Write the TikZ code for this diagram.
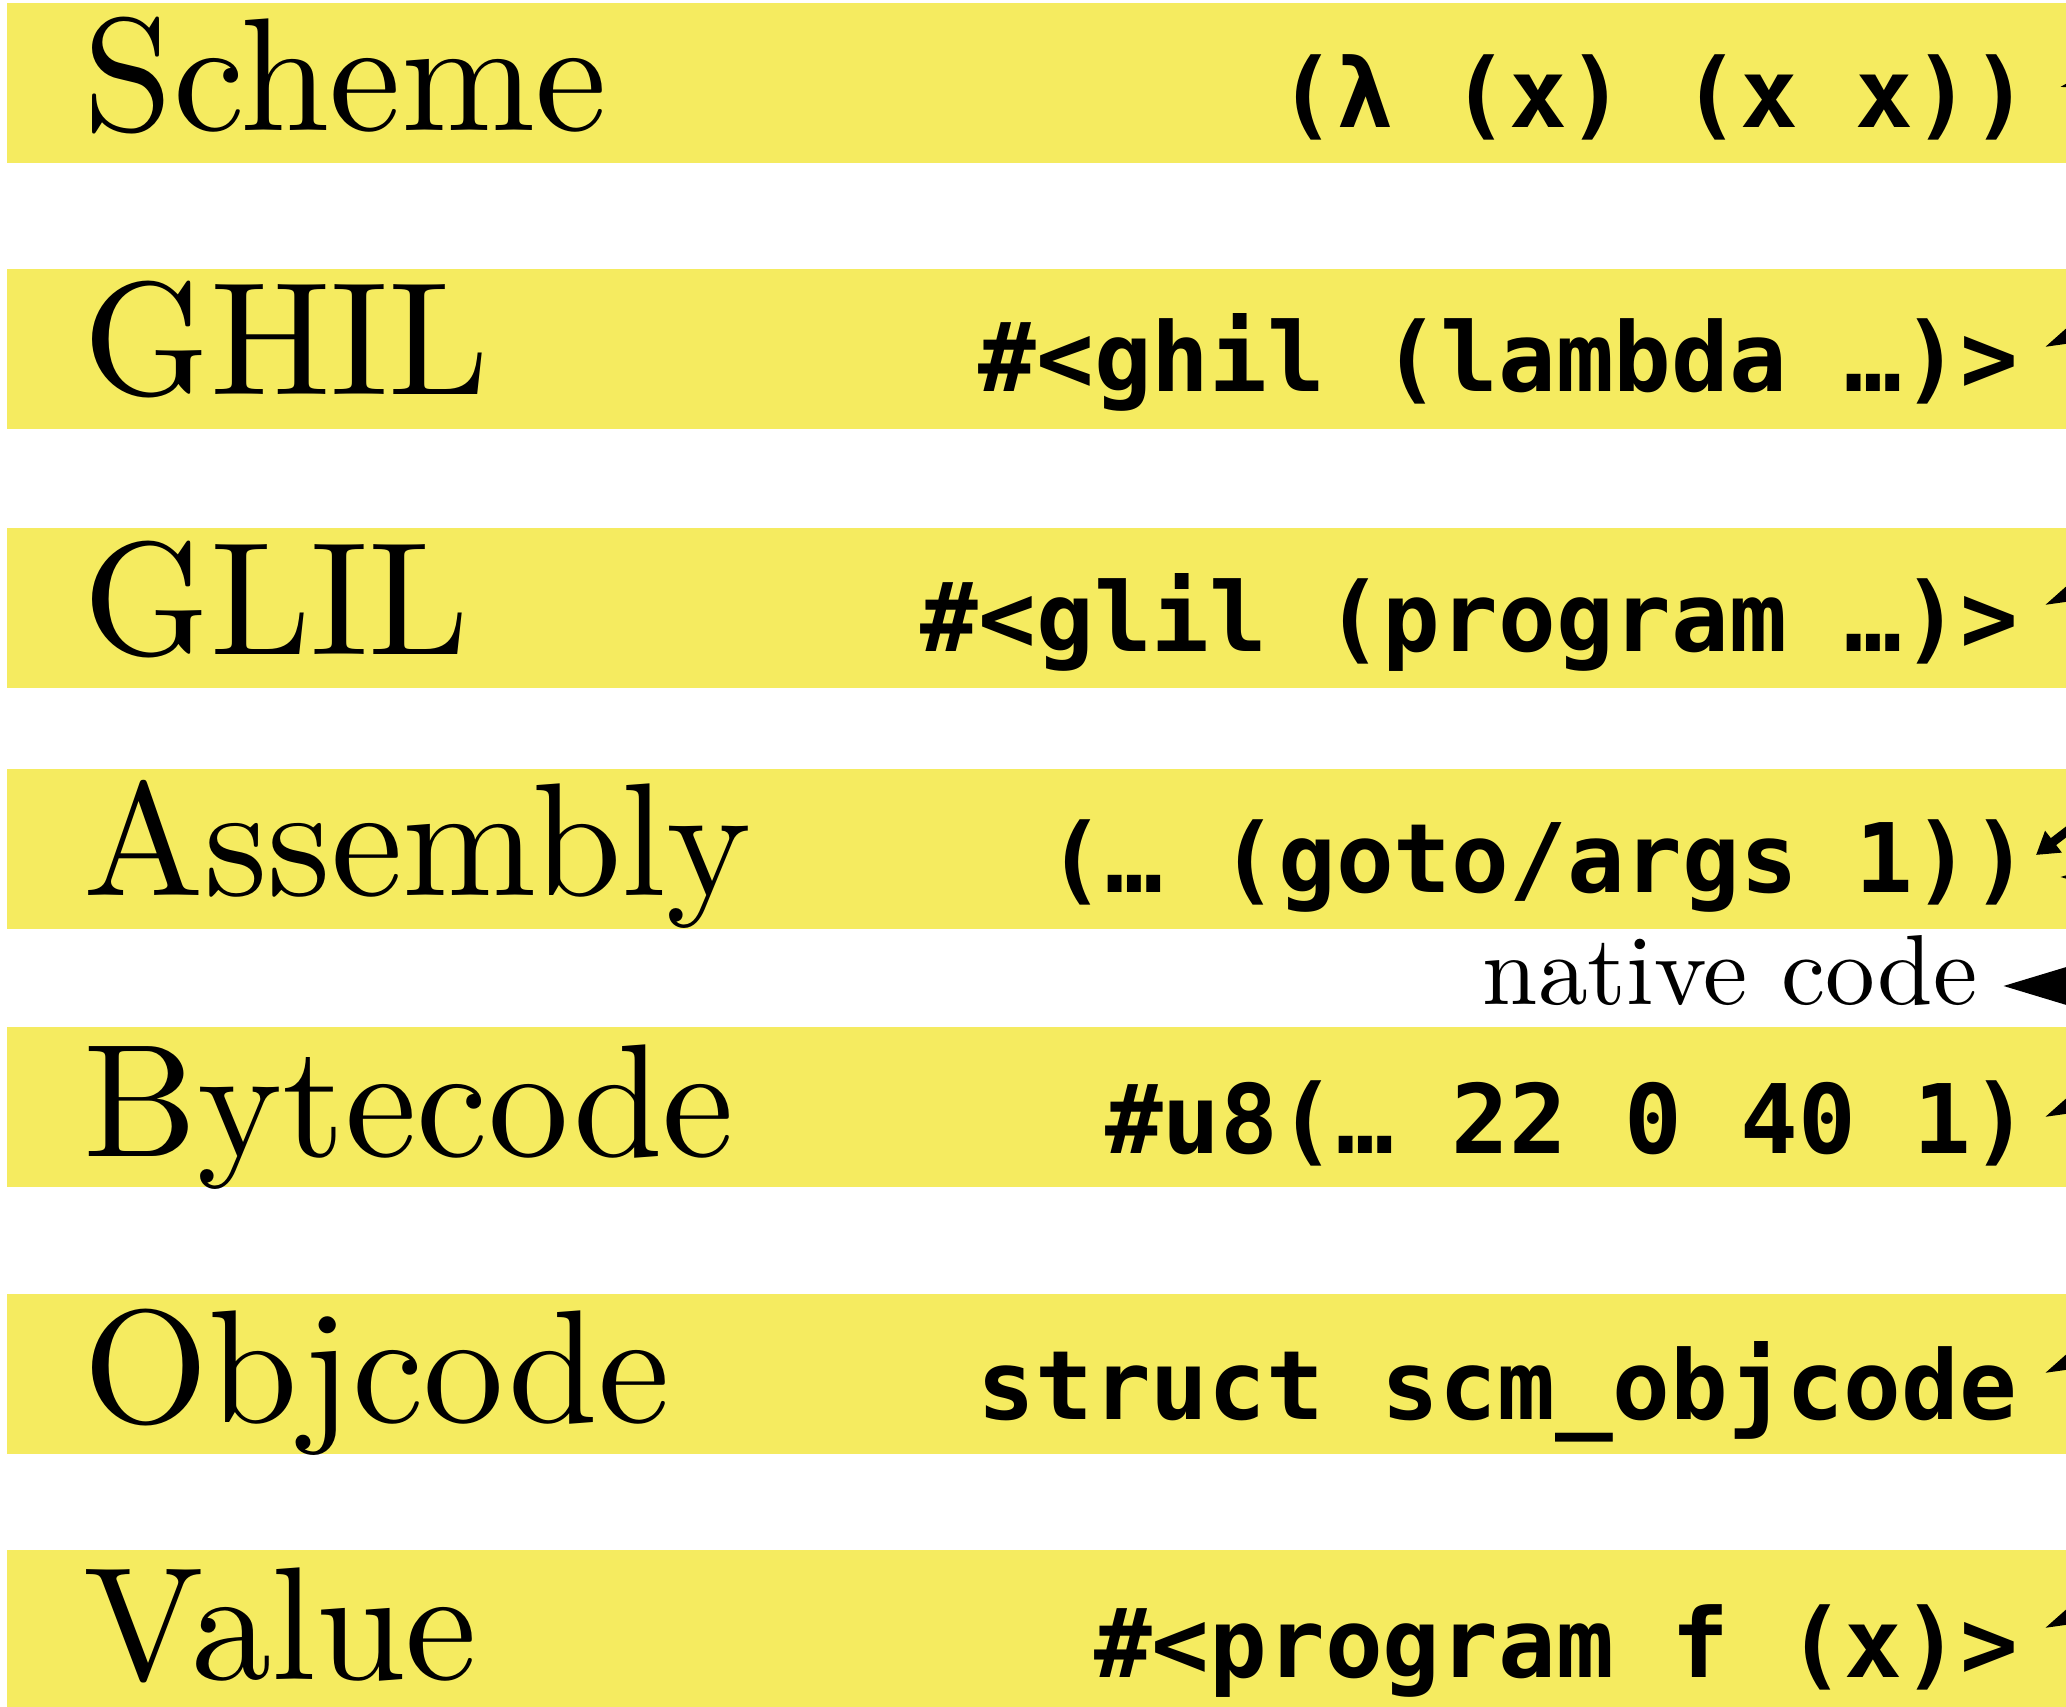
\documentclass[tikz,border=0pt]{standalone}
\usepackage{fontspec}
\setmonofont{DejaVu Sans Mono}
\newfontfamily\labelfont{lmroman10-regular.otf}
\usepackage{xcolor}
\usepackage{tikz}
\usetikzlibrary{arrows.meta,positioning}
\definecolor{bandyellow}{RGB}{245,235,96}
\newcommand\langsize{\labelfont\fontsize{45.8pt}{50pt}\selectfont}
\newcommand\codesize{\fontsize{27.3pt}{30pt}\selectfont\ttfamily\bfseries}
\newcommand\notesize{\labelfont\fontsize{28.3pt}{32pt}\selectfont}
\tikzstyle{band} = [rectangle, fill=bandyellow, minimum width=21cm, minimum height=1.6cm, anchor=north west, inner sep=0pt]
\tikzstyle{lang} = [font=\langsize, anchor=base west, inner sep=0pt]
\tikzstyle{code} = [font=\codesize, anchor=base east, inner sep=0pt]
\tikzstyle{line} = [draw, line width=2pt, -{Triangle[length=0.8cm,width=0.46cm]}]
\tikzstyle{thinline} = [draw, line width=2.5pt, -{Triangle[length=0.22cm,width=0.26cm]}]

\begin{document}
\begin{tikzpicture}
\useasboundingbox (0,0) rectangle (20.66,-17.07);
\node [band] (schemeband) at (0.06,-0.02) {};
\node [band] (ghilband) at (0.06,-2.68) {};
\node [band] (glilband) at (0.06,-5.27) {};
\node [band] (asmband) at (0.06,-7.68) {};
\node [band] (bcband) at (0.06,-10.26) {};
\node [band] (objband) at (0.06,-12.93) {};
\node [band] (valband) at (0.06,-15.49) {};

\node [lang] (scheme) at (0.83,-1.31) {Scheme};
\node [lang] (ghil) at (0.83,-3.95) {GHIL};
\node [lang] (glil) at (0.83,-6.55) {GLIL};
\node [lang] (asm) at (0.83,-8.96) {Assembly};
\node [lang] (bc) at (0.83,-11.57) {Bytecode};
\node [lang] (obj) at (0.83,-14.23) {Objcode};
\node [lang] (val) at (0.83,-16.80) {Value};

\node [code] (schemecode) at (20.30,-1.28) {(λ (x) (x x))};
\node [code] (ghilcode) at (20.19,-3.92) {\#<ghil (lambda …)>};
\node [code] (glilcode) at (20.19,-6.52) {\#<glil (program …)>};
\node [code] (asmcode) at (20.30,-8.93) {(… (goto/args 1))};
\node [code] (bccode) at (20.30,-11.54) {\#u8(… 22 0 40 1)};
\node [code] (objcode) at (20.18,-14.20) {struct scm\_objcode};
\node [code] (valcode) at (20.19,-16.77) {\#<program f (x)>};
\node [font=\notesize, anchor=base east, inner sep=0pt] (native) at (19.78,-10.05) {native code};

\coordinate (from1) at (23.3,-0.25);
\coordinate (from2) at (23.2,-2.20);
\coordinate (from3) at (23.2,-4.78);
\coordinate (from4) at (21.6,-7.60);
\coordinate (from4b) at (23.5,-8.77);
\coordinate (from5) at (23.2,-9.90);
\coordinate (from6) at (23.2,-12.46);
\coordinate (from7) at (23.2,-15.01);
\coordinate (fromnative) at (23.0,-9.86);

\path [line] (from1) -- ([shift={(0.30,0.41)}]schemecode.base east);
\path [line] (from2) -- ([shift={(0.26,0.45)}]ghilcode.base east);
\path [line] (from3) -- ([shift={(0.26,0.47)}]glilcode.base east);
\path [thinline] (from4) -- ([shift={(0.06,0.38)}]asmcode.base east);
\path [line] (from4b) -- ([shift={(0.30,0.16)}]asmcode.base east);
\path [line] (from5) -- ([shift={(0.15,0.37)}]bccode.base east);
\path [line] (from6) -- ([shift={(0.27,0.47)}]objcode.base east);
\path [line] (from7) -- ([shift={(0.26,0.49)}]valcode.base east);
\path [line] (fromnative) -- ([shift={(0.25,0.19)}]native.base east);
\end{tikzpicture}
\end{document}
